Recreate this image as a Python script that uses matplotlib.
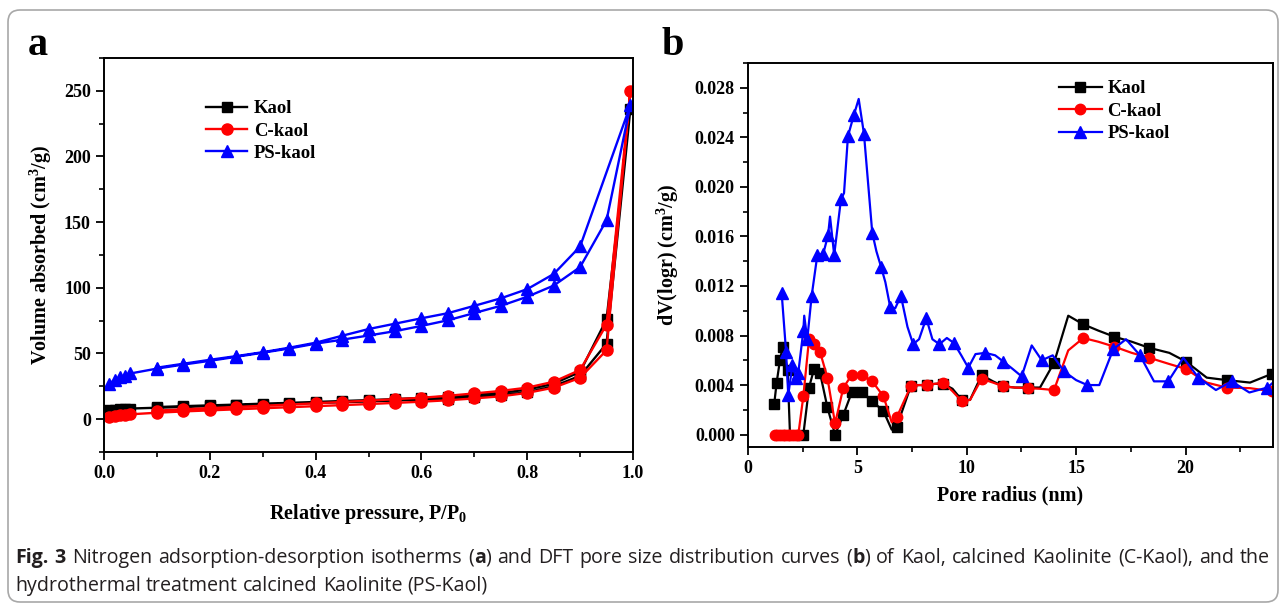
import matplotlib
matplotlib.use('Agg')
import matplotlib.pyplot as plt
from matplotlib.patches import FancyBboxPatch
from matplotlib.ticker import MultipleLocator, FormatStrFormatter
from matplotlib import font_manager

# (a) N2 adsorption-desorption isotherms
p_ads = [0.01, 0.02, 0.03, 0.04, 0.05, 0.10, 0.15, 0.20, 0.25, 0.30, 0.35, 0.40,
         0.45, 0.50, 0.55, 0.60, 0.65, 0.70, 0.75, 0.80, 0.85, 0.90, 0.95, 0.995]
p_des = [0.95, 0.90, 0.85, 0.80, 0.75, 0.70, 0.65, 0.60, 0.55, 0.50, 0.45, 0.40,
         0.35, 0.30, 0.25, 0.20, 0.15, 0.10]
p_des_ps = p_des[1:]

kaol_ads = [6.8, 7.2, 7.5, 7.8, 8.1, 8.7, 9.3, 9.9, 10.5, 11.1, 11.7, 12.3,
            12.9, 13.5, 14.2, 14.9, 15.7, 16.9, 18.2, 20.5, 25.0, 33.0, 57.5, 236]
kaol_des = [76, 36, 27, 22.5, 20, 18.6, 17.2, 16.2, 15.3, 14.5, 13.8, 13.1,
            12.4, 11.8, 11.1, 10.5, 9.9, 9.2]
ckaol_ads = [2.0, 2.5, 2.9, 3.3, 3.7, 4.9, 5.9, 6.7, 7.5, 8.3, 9.1, 9.9,
             10.7, 11.5, 12.4, 13.3, 14.4, 15.8, 17.4, 20.0, 24.0, 31.5, 52.5, 250]
ckaol_des = [72, 37.5, 28.5, 24.0, 21.5, 19.6, 17.8, 16.3, 15.2, 14.1, 13.1, 12.1,
             11.1, 10.2, 9.3, 8.4, 7.5, 6.5]
ps_ads = [26.7, 30, 32, 33.2, 34.8, 38.5, 41.6, 44.4, 47.5, 50.6, 53.8, 57.5,
          60.5, 63.7, 67.0, 71.0, 75.3, 80.8, 86.3, 93.2, 101.7, 115.8, 151.5, 239]
ps_des = [131.5, 110.5, 99, 92, 86.3, 80.7, 76.8, 72.7, 68.6, 63.5, 58.2,
          54.4, 51, 48, 45.2, 42.2, 39.2]

# (b) DFT pore size distribution
kaol_r = [1.20, 1.31, 1.46, 1.59, 1.81, 1.92, 2.10, 2.30, 2.53, 2.79, 3.02, 3.29,
          3.63, 3.98, 4.36, 4.74, 5.20, 5.68, 6.19, 6.57, 6.80,
          7.44, 7.80, 8.17, 8.55, 8.93, 9.35, 9.77, 10.15, 10.68, 11.20, 11.67, 12.20,
          12.80, 13.35, 13.99, 14.64, 15.33, 16.01, 16.75, 17.54, 18.35, 19.26, 20.02,
          20.97, 21.88, 22.95, 23.94]
kaol_dv = [0.0025, 0.0042, 0.0060, 0.0071, 0.0052, 0.0, 0.0, 0.0, 0.0, 0.0038, 0.0053, 0.0050,
           0.0022, 0.0, 0.0016, 0.0034, 0.0034, 0.0027, 0.0019, 0.0004, 0.00065,
           0.0039, 0.0040, 0.0040, 0.0041, 0.0041, 0.0037, 0.0028, 0.0028, 0.0048, 0.0043, 0.0039, 0.0038,
           0.0038, 0.0038, 0.0058, 0.0096, 0.0089, 0.0084, 0.0079, 0.0075, 0.0070, 0.0066, 0.0059,
           0.0046, 0.0044, 0.0042, 0.0049]

ckaol_r = [1.22, 1.34, 1.46, 1.58, 1.70, 1.82, 1.94, 2.06, 2.18, 2.30,
           2.53, 2.79, 3.02, 3.29, 3.63, 3.98, 4.36, 4.74, 5.20, 5.68, 6.19, 6.57, 6.80,
           7.44, 7.80, 8.17, 8.55, 8.93, 9.35, 9.77, 10.15, 10.68, 11.20, 11.67, 12.20,
           12.80, 13.35, 13.99, 14.64, 15.33, 16.01, 16.75, 17.54, 18.35, 19.26, 20.02,
           20.97, 21.88, 22.95, 23.94]
ckaol_dv = [0.0, 0.0, 0.0, 0.0, 0.0, 0.0, 0.0, 0.0, 0.0, 0.0,
            0.0031, 0.0077, 0.0073, 0.0067, 0.0046, 0.0009, 0.0038, 0.0048, 0.0048, 0.0043, 0.0031, 0.0010, 0.0014,
            0.0039, 0.0040, 0.0040, 0.0041, 0.0042, 0.0035, 0.0027, 0.0028, 0.0045, 0.0042, 0.0039, 0.0038,
            0.00375, 0.0037, 0.0036, 0.0068, 0.0078, 0.0075, 0.0071, 0.0066, 0.0062, 0.0057, 0.0053,
            0.0042, 0.0038, 0.00375, 0.0035]

ps_r = [1.54, 1.74, 1.84, 2.03, 2.19, 2.30, 2.53, 2.57, 2.71, 2.91,
        3.17, 3.44, 3.66, 3.75, 3.94, 4.25, 4.39, 4.57, 4.84, 5.06,
        5.30, 5.68, 5.87, 6.09, 6.28, 6.50, 6.73, 6.99, 7.29, 7.55,
        7.82, 8.15, 8.43, 8.75, 9.09, 9.41, 9.75, 10.07, 10.40, 10.85,
        11.30, 11.67, 12.10, 12.51, 12.97, 13.43, 13.93, 14.45, 15.00, 15.51,
        16.06, 16.70, 17.28, 17.92, 18.56, 19.21, 19.90, 20.59, 21.39, 22.11,
        22.92, 23.74, 24.00]
ps_dv = [0.0114, 0.0067, 0.0032, 0.0056, 0.0046, 0.0050, 0.0084, 0.0096, 0.0077, 0.0112,
         0.0145, 0.0146, 0.0161, 0.0176, 0.0145, 0.0190, 0.0195, 0.0241, 0.0258, 0.0271,
         0.0243, 0.0163, 0.0148, 0.0135, 0.0123, 0.0103, 0.0102, 0.0112, 0.0087, 0.0073,
         0.0077, 0.0094, 0.0077, 0.0073, 0.0078, 0.0074, 0.0064, 0.0054, 0.0065, 0.0066,
         0.0064, 0.0059, 0.0053, 0.0047, 0.0072, 0.0060, 0.0064, 0.0051, 0.0044, 0.0040,
         0.0040, 0.0069, 0.0077, 0.0064, 0.0043, 0.0043, 0.0062, 0.0046, 0.0036, 0.0043,
         0.0034, 0.0038, 0.0042]

labels = ['Kaol', 'C-kaol', 'PS-kaol']
caption_1 = ('**Fig. 3** Nitrogen adsorption-desorption isotherms (**a**) and DFT pore size '
             'distribution curves (**b**) of Kaol, calcined Kaolinite (C-Kaol), and the')
caption_2 = 'hydrothermal treatment calcined Kaolinite (PS-Kaol)'

plt.rcParams['font.family'] = ['Liberation Serif', 'DejaVu Serif']
plt.rcParams['font.weight'] = 'bold'
plt.rcParams['axes.labelweight'] = 'bold'
plt.rcParams['mathtext.fontset'] = 'custom'
plt.rcParams['mathtext.rm'] = 'Liberation Serif:bold'
plt.rcParams['mathtext.bf'] = 'Liberation Serif:bold'
plt.rcParams['mathtext.it'] = 'Liberation Serif:bold:italic'
plt.rcParams['mathtext.default'] = 'rm'
plt.rcParams['axes.linewidth'] = 1.4

W, H = 1284, 605
fig = plt.figure(figsize=(W / 100, H / 100), dpi=100)
ax1 = fig.add_axes([104 / W, 1 - 452 / H, 529 / W, 394 / H])
ax2 = fig.add_axes([748 / W, 1 - 447 / H, 525 / W, 384 / H])

colors = ['black', '#ff0000', '#0000ff']

# panel a: adsorption then desorption as one polyline
ax1.plot(p_ads + p_des, kaol_ads + kaol_des, '-s', color=colors[0], lw=1.7, ms=7, label=labels[0])
ax1.plot(p_ads + p_des, ckaol_ads + ckaol_des, '-o', color=colors[1], lw=1.7, ms=8, label=labels[1])
ax1.plot(p_ads + p_des_ps, ps_ads + ps_des, '-^', color=colors[2], lw=1.7, ms=8.5, label=labels[2])
ax1.set_xlim(0, 1.0)
ax1.set_ylim(-25, 275)
ax1.xaxis.set_major_locator(MultipleLocator(0.2))
ax1.xaxis.set_minor_locator(MultipleLocator(0.1))
ax1.yaxis.set_major_locator(MultipleLocator(50))
ax1.yaxis.set_minor_locator(MultipleLocator(25))
ax1.xaxis.set_major_formatter(FormatStrFormatter('%.1f'))
ax1.set_xlabel('Relative pressure, P/P$_0$', fontsize=14.5, labelpad=14)
ax1.set_ylabel('Volume absorbed (cm$^3$/g)', fontsize=14.5, labelpad=7)
ax1.legend(loc='upper left', bbox_to_anchor=(0.193, 0.893), frameon=False, fontsize=13.5,
           handlelength=2.2, handletextpad=0.35, labelspacing=0.28, borderpad=0, borderaxespad=0)


def marked(n, skip):
    return [i for i in range(n) if i not in skip]


kaol_skip = set([5, 6, 7, 19] + list(range(22, 47, 2)))
ckaol_skip = set([21] + list(range(24, 49, 2)))
ps_skip = set([7, 13, 16, 19] + list(range(22, 63, 2)))

ax2.plot(kaol_r, kaol_dv, '-s', color=colors[0], lw=1.6, ms=6.5,
         markevery=marked(len(kaol_r), kaol_skip), label=labels[0])
ax2.plot(ckaol_r, ckaol_dv, '-o', color=colors[1], lw=1.6, ms=7.5,
         markevery=marked(len(ckaol_r), ckaol_skip), label=labels[1])
ax2.plot(ps_r, ps_dv, '-^', color=colors[2], lw=1.6, ms=8,
         markevery=marked(len(ps_r), ps_skip), label=labels[2])
ax2.set_xlim(0, 24)
ax2.set_ylim(-0.001, 0.030)
ax2.xaxis.set_major_locator(MultipleLocator(5))
ax2.xaxis.set_minor_locator(MultipleLocator(2.5))
ax2.yaxis.set_major_locator(MultipleLocator(0.004))
ax2.yaxis.set_minor_locator(MultipleLocator(0.002))
ax2.yaxis.set_major_formatter(FormatStrFormatter('%.3f'))
ax2.set_xlabel('Pore radius (nm)', fontsize=14.5, labelpad=6)
ax2.set_ylabel('dV(logr) (cm$^3$/g)', fontsize=14.5, labelpad=10)
ax2.legend(loc='upper left', bbox_to_anchor=(0.592, 0.955), frameon=False, fontsize=13.5,
           handlelength=2.3, handletextpad=0.3, labelspacing=0.28, borderpad=0, borderaxespad=0)

for ax in (ax1, ax2):
    ax.tick_params(which='major', direction='out', length=6, width=1.3, labelsize=13,
                   top=False, right=False)
    ax.tick_params(which='minor', direction='out', length=3.5, width=1.2, top=False, right=False)

fig.text(28 / W, 1 - 55 / H, 'a', fontsize=29, fontweight='bold', va='baseline')
fig.text(662 / W, 1 - 55 / H, 'b', fontsize=29, fontweight='bold', va='baseline')

# frame around the figure
fig.patches.append(FancyBboxPatch((0.08, 0.03), 12.70, 5.92,
                                  boxstyle='round,pad=0,rounding_size=0.12',
                                  transform=fig.dpi_scale_trans, fill=False,
                                  ec='#a8a8a8', lw=1.2))

# caption, first line justified to the frame width
names = {f.name for f in font_manager.fontManager.ttflist}
cap_font = 'Liberation Sans Narrow' if 'Liberation Sans Narrow' in names else 'Open Sans'
renderer = fig.canvas.get_renderer()


def runs_of(line):
    words, bold = [], False
    for w in line.split(' '):
        parts = w.split('**')
        runs = []
        for k, piece in enumerate(parts):
            if k > 0:
                bold = not bold
            if piece:
                runs.append((piece, bold))
        words.append(runs)
    return words


def text_width(s, size, bold=False):
    t = fig.text(0, 0, s, fontsize=size, family=cap_font, fontweight='bold' if bold else 'normal')
    w = t.get_window_extent(renderer).width
    t.remove()
    return w


# pick a size so the first line nearly fills the frame
probe = 12
natural = sum(text_width(p, probe, b) for runs in runs_of(caption_1) for p, b in runs)
natural += text_width(' ', probe) * (len(runs_of(caption_1)) - 1)
cap_size = min(15, probe * 1235 / natural)


def draw_line(line, y_px, x0, x1=None):
    words = runs_of(line)
    objs, widths = [], []
    for runs in words:
        wobjs, ww = [], 0
        for piece, b in runs:
            t = fig.text(0, 1 - y_px / H, piece, fontsize=cap_size, family=cap_font,
                         fontweight='bold' if b else 'normal', color='#231f20', va='baseline')
            w = t.get_window_extent(renderer).width
            wobjs.append((t, w))
            ww += w
        objs.append(wobjs)
        widths.append(ww)
    space = text_width('a b', cap_size) - text_width('ab', cap_size)
    gap = space if x1 is None else (x1 - x0 - sum(widths)) / (len(words) - 1)
    x = x0
    for wobjs, ww in zip(objs, widths):
        for t, w in wobjs:
            t.set_x(x / W)
            x += w
        x += gap


draw_line(caption_1, 563, 15, 1270)
draw_line(caption_2, 591, 15)

fig.savefig('out.png', dpi=100)
